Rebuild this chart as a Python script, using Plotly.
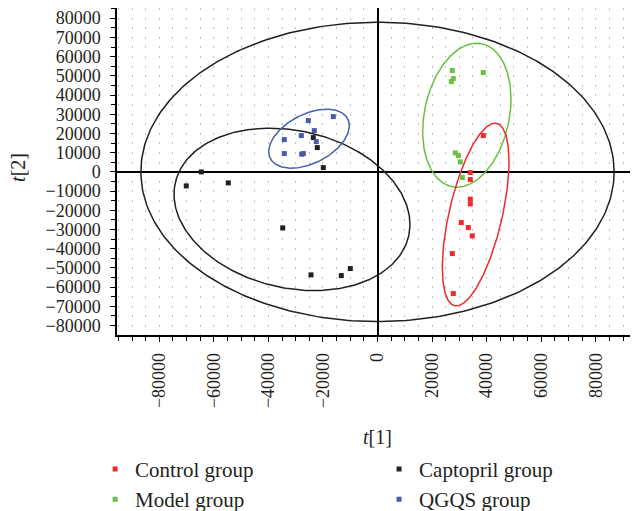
import numpy as np
import plotly.graph_objects as go

# ---- data ----
control_x = [38790, 34020, 34020, 34020, 34020, 30720, 33290, 34750, 27420, 27790]
control_y = [18890, -360, -4000, -14210, -16660, -26390, -28990, -33310, -42520, -63340]

model_x = [27420, 38790, 27790, 27060, 28520, 29620, 30350, 31090]
model_y = [52730, 51690, 48560, 47000, 9890, 8480, 5200, -2970]

capto_x = [-23540, -22070, -64600, -19870, -70100, -54700, -34750, -24380, -13270, -9970]
capto_y = [17850, 12650, 0, 2240, -7290, -5730, -29150, -53610, -53980, -50330]

qgqs_x = [-34170, -34170, -27930, -27790, -27200, -25370, -23170, -22440, -16200]
qgqs_y = [16810, 9525, 18890, 9210, 9525, 26700, 21500, 15770, 28780]

# ellipse parameters: centre x, centre y, sd x, sd y, correlation
ell_names = ["all", "Captopril", "QGQS", "Model", "Control"]
ell_cx = [0, -31350, -25100, 32750, 35990]
ell_cy = [0, -19500, 17270, 29500, -22200]
ell_sx = [86750, 43250, 14780, 16190, 12225]
ell_sy = [77900, 42270, 15340, 37480, 47550]
ell_rho = [0.0, -0.186, 0.438, 0.224, 0.58]
ell_colors = ["#231f20", "#231f20", "#4a5fb0", "#6cbf45", "#ee2a2a"]

x_ticks = [-80000, -60000, -40000, -20000, 0, 20000, 40000, 60000, 80000]
y_ticks = list(range(-80000, 80001, 10000))

RED, GREEN, BLACK, BLUE = "#ee2a2a", "#6cbf45", "#231f20", "#4a5aa8"
FONT = "Liberation Serif"
TXT = "#231f20"

fig = go.Figure()

tt = np.linspace(0, 2 * np.pi, 300)
for cx, cy, sx, sy, r, c in zip(ell_cx, ell_cy, ell_sx, ell_sy, ell_rho, ell_colors):
    ex = cx + sx * np.cos(tt)
    ey = cy + sy * (r * np.cos(tt) + np.sqrt(1 - r * r) * np.sin(tt))
    fig.add_trace(go.Scatter(x=ex, y=ey, mode="lines", line=dict(color=c, width=1.5),
                             showlegend=False, hoverinfo="skip"))

def pts(x, y, c, name, leg):
    return go.Scatter(x=x, y=y, mode="markers", name=name, legend=leg, legendgroup=name,
                      marker=dict(symbol="square", size=5, color=c, line=dict(width=0)))

fig.add_trace(pts(control_x, control_y, RED, "Control group", "legend"))
fig.add_trace(pts(model_x, model_y, GREEN, "Model group", "legend"))
fig.add_trace(pts(capto_x, capto_y, BLACK, "Captopril group", "legend2"))
fig.add_trace(pts(qgqs_x, qgqs_y, BLUE, "QGQS group", "legend2"))

xgrid = dict(gridcolor="#bdbdbd", griddash="2px,7.6px", gridwidth=1)
tickfont = dict(family=FONT, size=18, color=TXT)
fig.update_xaxes(range=[-95500, 95500], tickvals=x_ticks, ticktext=[str(v).replace("-", "−") for v in x_ticks],
                 tickangle=-90, ticks="outside", ticklen=5, tickcolor="black", ticklabelstandoff=4,
                 showline=True, linecolor="black", linewidth=1.5, automargin=False,
                 zeroline=True, zerolinecolor="black", zerolinewidth=1.5,
                 showgrid=True, **xgrid,
                 minor=dict(dtick=5000, tick0=0, ticks="outside", ticklen=4, tickcolor="black", showgrid=True, **xgrid),
                 tickfont=tickfont)
fig.update_yaxes(range=[-84900, 85300], tickvals=y_ticks, ticktext=[str(v).replace("-", "−") for v in y_ticks],
                 ticks="outside", ticklen=5, tickcolor="black", ticklabelstandoff=6,
                 showline=True, linecolor="black", linewidth=1.5, automargin=False,
                 zeroline=True, zerolinecolor="black", zerolinewidth=1.5,
                 showgrid=False,
                 minor=dict(dtick=5000, tick0=0, ticks="outside", ticklen=4, tickcolor="black", showgrid=False),
                 tickfont=tickfont)

fig.add_annotation(text="<i>t</i>[2]", xref="paper", yref="paper", x=-0.19, y=0.511,
                   xanchor="center", yanchor="middle",
                   textangle=-90, showarrow=False, font=dict(family=FONT, size=20, color=TXT))
fig.add_annotation(text="<i>t</i>[1]", xref="paper", yref="paper", x=0.5, y=-0.312,
                   xanchor="center", yanchor="middle",
                   showarrow=False, font=dict(family=FONT, size=20, color=TXT))

legfont = dict(family=FONT, size=21, color=TXT)
fig.update_layout(
    width=630, height=503,
    margin=dict(l=109, r=0, t=0, b=176, autoexpand=False),
    plot_bgcolor="white", paper_bgcolor="white",
    legend=dict(orientation="v", x=-0.042, y=-0.348, xanchor="left", yanchor="top",
                tracegroupgap=0, font=legfont, itemwidth=30, bgcolor="rgba(0,0,0,0)"),
    legend2=dict(orientation="v", x=0.503, y=-0.348, xanchor="left", yanchor="top",
                 tracegroupgap=0, font=legfont, itemwidth=30, bgcolor="rgba(0,0,0,0)"),
)

fig.write_html("out.html")
